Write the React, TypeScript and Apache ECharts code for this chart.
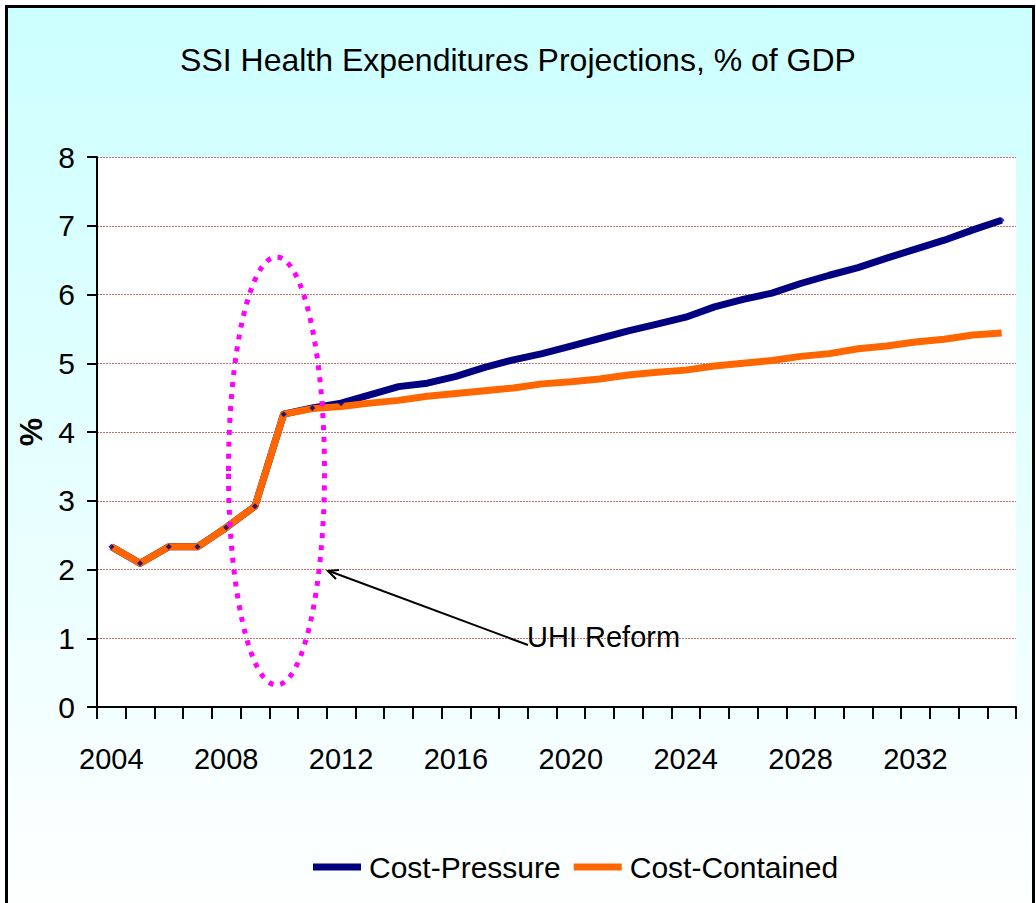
import React, { useEffect, useRef } from "react";
import * as echarts from "echarts";

const years = [
  "2004", "2005", "2006", "2007", "2008", "2009", "2010", "2011",
  "2012", "2013", "2014", "2015", "2016", "2017", "2018", "2019",
  "2020", "2021", "2022", "2023", "2024", "2025", "2026", "2027",
  "2028", "2029", "2030", "2031", "2032", "2033", "2034", "2035",
];

const costPressure = [
  2.33, 2.09, 2.33, 2.33, 2.61, 2.92, 4.26, 4.35,
  4.42, 4.54, 4.66, 4.71, 4.81, 4.94, 5.05, 5.14,
  5.25, 5.36, 5.47, 5.57, 5.67, 5.82, 5.93, 6.02,
  6.16, 6.28, 6.39, 6.53, 6.66, 6.79, 6.94, 7.08,
];

const costContained = [
  2.33, 2.09, 2.33, 2.33, 2.61, 2.92, 4.26, 4.34,
  4.37, 4.42, 4.46, 4.52, 4.56, 4.60, 4.64, 4.70,
  4.73, 4.77, 4.83, 4.87, 4.90, 4.96, 5.00, 5.04,
  5.10, 5.14, 5.21, 5.25, 5.31, 5.35, 5.41, 5.44,
];

const seriesNames = ["Cost-Pressure", "Cost-Contained"];
const titleText = "SSI Health Expenditures Projections, % of GDP";
const annotationText = "UHI Reform";

const FONT = "'Liberation Sans', Arial, sans-serif";

export default function App() {
  const ref = useRef<HTMLDivElement | null>(null);

  useEffect(() => {
    if (!ref.current) return;
    const chart = echarts.init(ref.current, null, { renderer: "svg" });
    chart.setOption({
      animation: false,
      backgroundColor: "transparent",
      textStyle: { fontFamily: FONT },
      title: {
        text: titleText,
        left: "center",
        top: 39,
        textStyle: { fontFamily: FONT, fontSize: 32, fontWeight: "normal", color: "#000" },
      },
      grid: {
        left: 97,
        right: 20,
        top: 157,
        bottom: 196,
        show: true,
        backgroundColor: "#ffffff",
        borderWidth: 0,
      },
      legend: {
        data: seriesNames,
        left: 308,
        top: 847,
        icon: "rect",
        itemWidth: 48,
        itemHeight: 7,
        itemGap: 13,
        textStyle: { fontFamily: FONT, fontSize: 30, color: "#000", padding: [0, 0, 0, 3] },
      },
      xAxis: {
        type: "category",
        data: years,
        boundaryGap: true,
        axisLine: { show: true, lineStyle: { color: "#000", width: 2 } },
        axisTick: { show: true, interval: 0, length: 12, lineStyle: { color: "#000", width: 2 } },
        axisLabel: { interval: 3, fontSize: 29, color: "#000", margin: 37, fontFamily: FONT },
        splitLine: { show: false },
      },
      yAxis: {
        type: "value",
        min: 0,
        max: 8,
        interval: 1,
        name: "%",
        nameLocation: "middle",
        nameGap: 42,
        nameTextStyle: { fontFamily: FONT, fontSize: 32, fontWeight: "bold", color: "#000" },
        axisLine: { show: true, lineStyle: { color: "#000", width: 2 } },
        axisTick: { show: true, length: 10, lineStyle: { color: "#000", width: 2 } },
        axisLabel: { fontSize: 30, color: "#000", margin: 22, fontFamily: FONT },
        splitLine: { show: true, lineStyle: { color: "#C07070", width: 1, type: [2, 1] } },
      },
      series: [
        {
          name: seriesNames[0],
          type: "line",
          data: costPressure,
          z: 2,
          showSymbol: false,
          color: "#000080",
          lineStyle: { color: "#000080", width: 7, join: "round" },
        },
        {
          name: seriesNames[1],
          type: "line",
          data: costContained,
          z: 3,
          showSymbol: false,
          color: "#FF6600",
          lineStyle: { color: "#FF6600", width: 7, join: "round" },
        },
        {
          name: "markers",
          type: "scatter",
          data: costPressure,
          z: 4,
          symbol: "diamond",
          symbolSize: 6,
          itemStyle: { color: "#000080" },
        },
      ],
      graphic: [
        {
          type: "ellipse",
          z: 10,
          shape: { cx: 276.5, cy: 471, rx: 48, ry: 214 },
          style: { fill: "none", stroke: "#FF00FF", lineWidth: 5, lineDash: [5, 7] },
        },
        {
          type: "line",
          z: 10,
          shape: { x1: 528, y1: 645, x2: 329, y2: 571 },
          style: { stroke: "#000", lineWidth: 2 },
        },
        {
          type: "polyline",
          z: 10,
          shape: { points: [[336, 579], [328, 571], [339, 570]] },
          style: { stroke: "#000", lineWidth: 2, fill: "none" },
        },
        {
          type: "text",
          z: 10,
          x: 527,
          y: 637,
          style: {
            text: annotationText,
            fontSize: 29,
            fontFamily: FONT,
            fill: "#000",
            textVerticalAlign: "middle",
            verticalAlign: "middle",
          },
        },
      ],
    });
    return () => chart.dispose();
  }, []);

  return (
    <div style={{ position: "fixed", left: 0, top: 0, width: 1036, height: 903, background: "#fff", overflow: "hidden" }}>
      <div
        style={{
          position: "absolute",
          left: 5,
          top: 5,
          width: 1024,
          height: 920,
          border: "3px solid #000",
          background: "linear-gradient(to bottom, #CCFFFF 0%, #FFFFFF 100%)",
        }}
      />
      <div ref={ref} style={{ position: "absolute", left: 0, top: 0, width: 1036, height: 903 }} />
    </div>
  );
}
